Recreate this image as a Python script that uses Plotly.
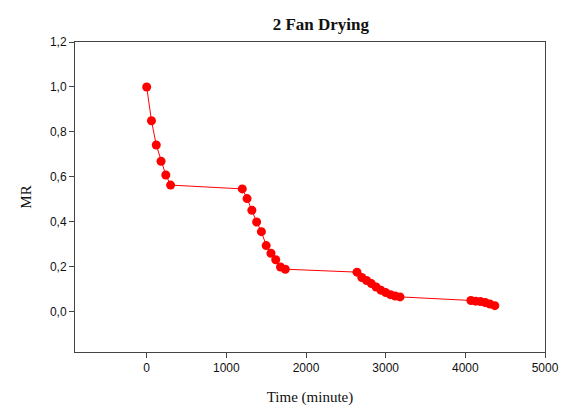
import plotly.graph_objects as go

time_min = [0, 60, 120, 180, 240, 300,
            1200, 1260, 1320, 1380, 1440, 1500, 1560, 1620, 1680, 1740,
            2640, 2700, 2760, 2820, 2880, 2940, 3000, 3060, 3120, 3180,
            4070, 4130, 4190, 4250, 4310, 4370]
mr = [1.0, 0.850, 0.742, 0.670, 0.609, 0.564,
      0.547, 0.504, 0.452, 0.400, 0.357, 0.295, 0.261, 0.232, 0.200, 0.190,
      0.177, 0.153, 0.140, 0.126, 0.111, 0.097, 0.086, 0.077, 0.071, 0.067,
      0.051, 0.048, 0.046, 0.042, 0.035, 0.028]

x_ticks = [0, 1000, 2000, 3000, 4000, 5000]
y_ticks = [0.0, 0.2, 0.4, 0.6, 0.8, 1.0, 1.2]
y_tick_labels = ["0,0", "0,2", "0,4", "0,6", "0,8", "1,0", "1,2"]

fig = go.Figure()
fig.add_trace(go.Scatter(
    x=time_min, y=mr, mode="lines+markers",
    line=dict(color="#ff0000", width=1),
    marker=dict(color="#ff0000", size=9),
    showlegend=False,
))

axis_common = dict(
    showline=True, linecolor="#444444", linewidth=1, mirror=True,
    ticks="outside", ticklen=5, tickcolor="#444444", tickwidth=1,
    showgrid=False, zeroline=False, automargin=False,
    tickfont=dict(family="Liberation Sans, Arial", size=12, color="#111111"),
)

fig.update_layout(
    width=566, height=406,
    margin=dict(l=75, r=21, t=42, b=54),
    paper_bgcolor="white", plot_bgcolor="white",
    title=dict(text="<b>2 Fan Drying</b>", x=0.523, xref="paper", xanchor="center",
               y=0.94, yref="container", yanchor="middle",
               font=dict(family="Liberation Serif, Times New Roman", size=17, color="#111111")),
    xaxis=dict(range=[-900, 5000], tickvals=x_ticks, ticktext=[str(v) for v in x_ticks],
               title=dict(text="Time (minute)", standoff=17,
                          font=dict(family="Liberation Serif, Times New Roman", size=15, color="#111111")),
               **axis_common),
    yaxis=dict(range=[-0.178, 1.2], tickvals=y_ticks, ticktext=y_tick_labels,
               title=dict(text="MR", standoff=14,
                          font=dict(family="Liberation Serif, Times New Roman", size=15, color="#111111")),
               **axis_common),
)

fig.write_html("out.html")
